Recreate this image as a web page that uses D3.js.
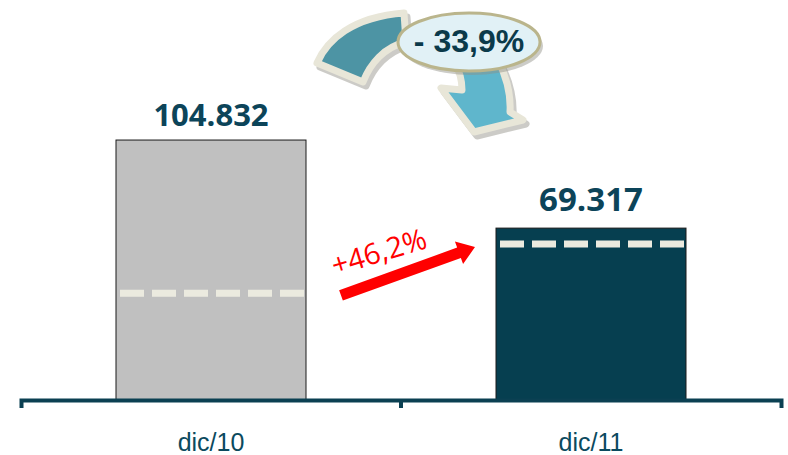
<!DOCTYPE html>
<html>
<head>
<meta charset="utf-8">
<script src="https://cdn.jsdelivr.net/npm/d3@7"></script>
<style>
  body{margin:0;background:#fff;}
  svg{display:block;}
</style>
</head>
<body>
<svg id="chart" width="788" height="455"></svg>
<script>
let categories=["dic/10","dic/11"];
let values=[104832,69317];
let valueLabels=["104.832","69.317"];
let dashValues=[43000,62900];
let changeLabel="- 33,9%";
let growthLabel="+46,2%";

let barFills=["#c0c0c0","#063f50"];
let labelSizes=[31,33];

const render=()=>{
  let svg=d3.select("#chart");

  let x=d3.scaleBand().domain(categories).range([21,781]).paddingInner(0.5).paddingOuter(0.25);
  let y=d3.scaleLinear().domain([0,161300]).range([400,0]);

  // bars
  svg.append("g")
    .selectAll("rect")
    .data(categories)
    .enter()
      .append("rect")
      .attr("x",(d)=>x(d))
      .attr("y",(d,i)=>y(values[i]))
      .attr("width",x.bandwidth())
      .attr("height",(d,i)=>y(0)-y(values[i]))
      .attr("fill",(d,i)=>barFills[i])
      .attr("stroke","#1a1a1a")
      .attr("stroke-width",1);

  // dashed level inside each bar
  svg.append("g")
    .selectAll("line")
    .data(categories)
    .enter()
      .append("line")
      .attr("x1",(d)=>x(d)+4)
      .attr("x2",(d)=>x(d)+x.bandwidth()-1)
      .attr("y1",(d,i)=>y(dashValues[i]))
      .attr("y2",(d,i)=>y(dashValues[i]))
      .attr("stroke","#ebeadf")
      .attr("stroke-width",7)
      .attr("stroke-dasharray","24 8");

  // value labels
  svg.append("g")
    .selectAll("text")
    .data(categories)
    .enter()
      .append("text")
      .attr("x",(d)=>x(d)+x.bandwidth()/2)
      .attr("y",(d,i)=>y(values[i])-(i==0?14:17))
      .attr("text-anchor","middle")
      .attr("font-family","'Open Sans', sans-serif")
      .attr("font-weight","bold")
      .attr("font-size",(d,i)=>labelSizes[i])
      .attr("fill","#0c4459")
      .text((d,i)=>valueLabels[i]);

  // axis
  let axis=svg.append("g")
    .attr("transform",`translate(0,${y(0)})`)
    .call(d3.axisBottom(x).tickSizeInner(0).tickSizeOuter(8).tickPadding(33));
  axis.select(".domain")
    .attr("stroke","#0b4052")
    .attr("stroke-width",4);
  axis.selectAll("text")
    .attr("font-family","'Liberation Sans', Arial, sans-serif")
    .attr("font-size",25)
    .attr("fill","#0b4a5e");
  axis.append("line")
    .attr("x1",x.range()[0]+x.step())
    .attr("x2",x.range()[0]+x.step())
    .attr("y1",0)
    .attr("y2",8)
    .attr("stroke","#0b4052")
    .attr("stroke-width",4);

  // red growth arrow between dashed levels
  let p0=[x(categories[0])+x.bandwidth()+35,y(dashValues[0])+2];
  let p1=[x(categories[1])-21,y(dashValues[1])+3];
  let dx=p1[0]-p0[0],dy=p1[1]-p0[1],len=Math.hypot(dx,dy);
  let ux=dx/len,uy=dy/len,nx=-uy,ny=ux;
  let headLen=17,headW=12,shaft=5.5;
  let bx=p1[0]-ux*headLen,by=p1[1]-uy*headLen;
  let pts=[
    [p0[0]+nx*shaft,p0[1]+ny*shaft],
    [bx+nx*shaft,by+ny*shaft],
    [bx+nx*headW,by+ny*headW],
    p1,
    [bx-nx*headW,by-ny*headW],
    [bx-nx*shaft,by-ny*shaft],
    [p0[0]-nx*shaft,p0[1]-ny*shaft]
  ];
  svg.append("path")
    .attr("d",d3.line()(pts)+"Z")
    .attr("fill","#ff0000");
  let ang=Math.atan2(dy,dx)*180/Math.PI;
  svg.append("text")
    .attr("transform",`translate(${(p0[0]+p1[0])/2-29},${(p0[1]+p1[1])/2-19}) rotate(${ang+3})`)
    .attr("text-anchor","middle")
    .attr("y",10)
    .attr("font-family","'Open Sans', sans-serif")
    .attr("font-size",29)
    .attr("fill","#ff0000")
    .text(growthLabel);

  // curved decrease arrow
  let leftPiece="M317,63 C327,40 352,17 404,13 L406,42 C384,47 370,64 363,82 Z";
  let rightPiece="M455,64 L498,60 C507,78 511,95 510,112 L523,120 L474,132 L441,88 L462,90 C462,80 460,72 455,64 Z";
  let curve=svg.append("g");
  [leftPiece,rightPiece].forEach((p,i)=>{
    curve.append("path")
      .attr("d",p)
      .attr("transform","translate(3,4)")
      .attr("fill","#8f8e84")
      .attr("stroke","#8f8e84")
      .attr("stroke-width",7)
      .attr("stroke-linejoin","round")
      .attr("opacity",0.45);
    curve.append("path")
      .attr("d",p)
      .attr("fill",i==0?"#4d94a4":"#5fb6cc")
      .attr("stroke","#e8e6d8")
      .attr("stroke-width",7)
      .attr("stroke-linejoin","round");
  });

  let bubble=svg.append("g").attr("transform","translate(469,42)");
  bubble.append("ellipse")
    .attr("cx",3).attr("cy",4)
    .attr("rx",71).attr("ry",29)
    .attr("fill","#8f8e84")
    .attr("opacity",0.45);
  bubble.append("ellipse")
    .attr("rx",71).attr("ry",29)
    .attr("fill","#e1f1f6")
    .attr("stroke","#bab58c")
    .attr("stroke-width",3);
  bubble.append("text")
    .attr("y",10)
    .attr("text-anchor","middle")
    .attr("font-family","'Liberation Sans', Arial, sans-serif")
    .attr("font-weight","bold")
    .attr("font-size",32)
    .attr("fill","#0b3a4a")
    .text(changeLabel);
}

render();
</script>
</body>
</html>
